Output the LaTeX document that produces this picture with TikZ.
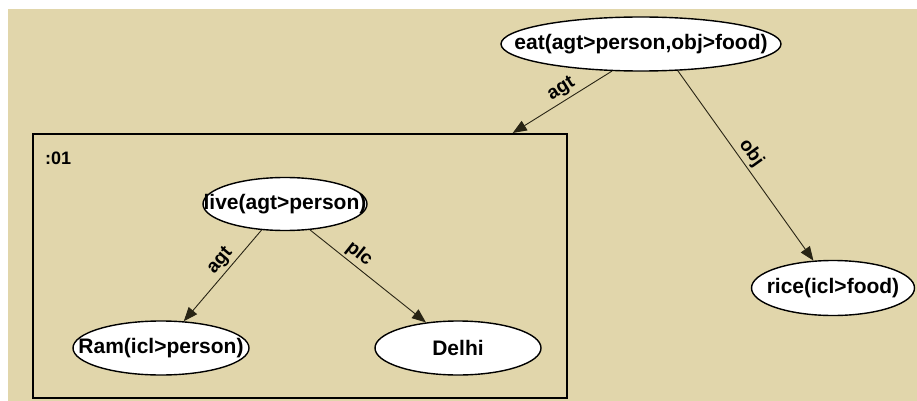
\documentclass[tikz,border=0pt]{standalone}
\usepackage{fontspec}
\setmainfont{Liberation Sans}
\usetikzlibrary{shapes.geometric,arrows.meta}
\definecolor{canvasbg}{RGB}{225,214,171}
\definecolor{edgecol}{RGB}{40,36,20}
\tikzset{
  concept/.style={ellipse, draw=black, line width=1.4pt, fill=white, inner sep=0pt},
  conceptname/.style={font=\fontsize{21}{23}\selectfont\bfseries, inner sep=0pt},
  relation/.style={draw=edgecol, line width=0.9pt,
    -{Triangle[length=14pt,width=11pt]}},
  rellabel/.style={sloped, above, inner sep=2.5pt, font=\fontsize{19}{21}\selectfont\bfseries},
  scopebox/.style={draw=black, line width=2pt, inner sep=0pt}
}
\begin{document}
\begin{tikzpicture}[x=1pt,y=-1pt]
  % page and canvas
  \fill[white] (0,0) rectangle (917,401);
  \fill[canvasbg] (8,9) rectangle (917,401);
  \useasboundingbox (0,0) rectangle (917,401);

  % compound scope :01
  \node[scopebox, minimum width=534pt, minimum height=264pt] (box) at (300,266) {};
  \node[anchor=west, inner sep=0pt, font=\fontsize{18}{20}\selectfont\bfseries] (scopeid) at (45,158) {:01};

  % concepts: fixed-size ellipses with the name set on top
  \node[concept, minimum width=280pt, minimum height=54pt] (eat) at (641,44) {};
  \node[conceptname] (eatname) at (eat) {eat(agt>person,obj>food)};
  \node[concept, minimum width=164pt, minimum height=53pt] (live) at (285,204) {};
  \node[conceptname] (livename) at (live) {live(agt>person)};
  \node[concept, minimum width=176pt, minimum height=54pt] (ram) at (161,348) {};
  \node[conceptname] (ramname) at (ram) {Ram(icl>person)};
  \node[concept, minimum width=166pt, minimum height=54pt] (delhi) at (458,348) {};
  \node[conceptname] (delhiname) at (delhi) {Delhi};
  \node[concept, minimum width=163pt, minimum height=55pt] (rice) at (833,288) {};
  \node[conceptname] (ricename) at (rice) {rice(icl>food)};

  % relations
  \draw[relation] (eat.223) -- (box) node[rellabel, pos=0.45] (l1) {agt};
  \draw[relation] (eat.324) -- (rice) node[rellabel, pos=0.47] (l2) {obj};
  \draw[relation] (live.228) -- (ram) node[rellabel, pos=0.42] (l3) {agt};
  \draw[relation] (live.314) -- (delhi) node[rellabel, pos=0.36] (l4) {plc};
\end{tikzpicture}
\end{document}
